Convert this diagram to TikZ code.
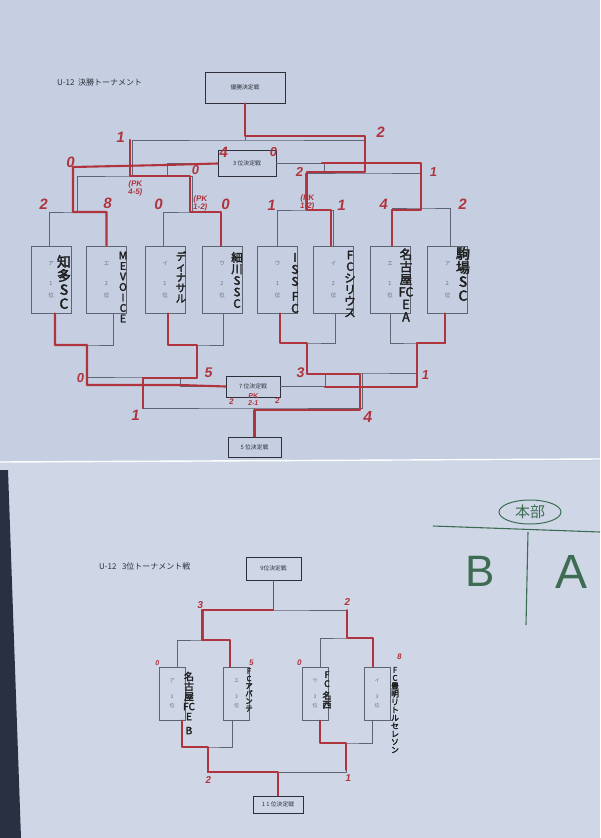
\documentclass[tikz,border=0pt]{standalone}
\usepackage{fontspec}
\setmainfont{Noto Sans CJK JP}
\newfontfamily\jp{Noto Sans CJK JP}
\newfontfamily\hwf{Noto Sans CJK JP}[FakeBold=2.5]
\newfontfamily\rdf{Liberation Sans}[FakeSlant=0.15]
\newfontfamily\grf{Liberation Sans}
\definecolor{sheetA}{RGB}{197,207,225}
\definecolor{sheetB}{RGB}{207,215,231}
\definecolor{redc}{RGB}{176,52,62}
\definecolor{linec}{RGB}{95,100,115}
\definecolor{boxc}{RGB}{45,48,58}
\definecolor{greyt}{RGB}{105,110,125}
\definecolor{greenc}{RGB}{62,108,82}
\definecolor{darkc}{RGB}{40,48,66}
\begin{document}
\begin{tikzpicture}[x=1pt,y=-1pt,
  thinl/.style={draw=linec,line width=0.6pt},
  win/.style={draw=redc,line width=2.1pt,line join=round,line cap=round},
  winb/.style={win,line width=1.6pt},
  lbox/.style={draw=boxc,line width=0.8pt,inner sep=0pt,font=\jp\fontsize{5.8}{7}\selectfont,text=boxc},
  tbox/.style={draw=linec,line width=0.7pt,minimum width=40pt,minimum height=67pt,inner sep=0pt,align=center,font=\jp\fontsize{5.5}{12}\selectfont,text=greyt},
  ubox/.style={draw=linec,line width=0.7pt,minimum width=26pt,minimum height=53pt,inner sep=0pt,align=center,font=\jp\fontsize{5}{9}\selectfont,text=greyt},
  hw/.style={inner sep=0pt,align=center,text=black!88,font=\hwf\fontsize{#1}{#1}\selectfont},
  sc/.style={inner sep=0pt,align=center,text=redc,font=\rdf\bfseries\fontsize{#1}{#1}\selectfont},
  ttl/.style={anchor=west,inner sep=0pt,text=boxc,font=\jp\fontsize{8}{9}\selectfont}
]
\useasboundingbox (0,0) rectangle (600,838);
% paper sheets
\fill[sheetA] (0,0) rectangle (600,461);
\fill[sheetB] (0,461) rectangle (600,838);
\draw[white,line width=1.4pt] (0,462) -- (600,459);
\fill[darkc] (0,470) -- (8,470) -- (21,838) -- (0,838) -- cycle;

% ---------- titles ----------
\node[ttl] (title1) at (57,82) {U-12\ \ 決勝トーナメント};
\node[ttl] (title2) at (99,566) {U-12\ \ \ 3位トーナメント戦};

% ---------- match boxes ----------
\node[lbox,minimum width=80pt,minimum height=31pt] (yusho) at (245,87.5) {優勝決定戦};
\node[lbox,minimum width=58pt,minimum height=26pt] (b3) at (247,163.5) {3 位決定戦};
\node[lbox,minimum width=54pt,minimum height=21pt] (b7) at (253,386.5) {7 位決定戦};
\node[lbox,minimum width=53pt,minimum height=20pt] (b5) at (254.5,447) {5 位決定戦};
\node[lbox,minimum width=55pt,minimum height=23pt] (b9) at (273.5,568.5) {9位決定戦};
\node[lbox,minimum width=50pt,minimum height=17pt] (b11) at (278,804.5) {1 1 位決定戦};

% ---------- team boxes (top) ----------
\foreach \n/\x/\k/\r in {1/51/ア/1,2/106.5/エ/2,3/165/イ/1,4/222/ウ/2,5/277.5/ウ/1,6/333.5/イ/2,7/390/エ/1,8/447.5/ア/2}
  \node[tbox] (t\n) at (\x,279.5) {\k\\[8pt]\r\\位};
% ---------- team boxes (bottom) ----------
\foreach \n/\x/\k in {A/172/ア,B/236.5/エ,C/315/ウ,D/377/イ}
  \node[ubox] (u\n) at (\x,693.5) {\k\\[7pt]3\\位};

% ---------- bracket coordinates ----------
\coordinate (p1) at (77,212);   \coordinate (p2) at (192,212);
\coordinate (p3) at (305,210);  \coordinate (p4) at (421,208);
\coordinate (s1) at (132,176);  \coordinate (s2) at (364,173);
\coordinate (f)  at (245,140);
\coordinate (c3l) at (167,176); \coordinate (c3r) at (324,173);
\coordinate (q1) at (86,345);   \coordinate (q2) at (196,345);
\coordinate (q3) at (307,343);  \coordinate (q4) at (417,343);
\coordinate (r1) at (142,377);  \coordinate (r2) at (362,373);
\coordinate (g)  at (254.5,408);
\coordinate (c7l) at (180,377); \coordinate (c7r) at (325,373);
\coordinate (h)  at (273.5,610);
\coordinate (k1) at (203.5,640); \coordinate (k2) at (346.5,638);
\coordinate (m1) at (207,747);   \coordinate (m2) at (346,743);
\coordinate (nn) at (278,772);

% ---------- thin printed bracket (top sheet) ----------
\draw[thinl] ([xshift=-2pt]t1.north) |- (p1) -| (t2.north);
\draw[thinl] ([xshift=-2pt]t3.north) |- (p2) -| ([xshift=-2pt]t4.north);
\draw[thinl] (t5.north) |- (p3) -| (t6.north);
\draw[thinl] ([xshift=2pt]t7.north) |- (p4) -| ([xshift=2.5pt]t8.north);
\draw[thinl] (p1) |- (s1) -| (p2);
\draw[thinl] (p3) |- (s2) -| (p4);
\draw[thinl] (s1) |- (f) -| (s2);
\draw[thinl] (yusho.south) -- (f);
\draw[thinl] (b3.west) -| (c3l);
\draw[thinl] (b3.east) -| (c3r);
\draw[thinl] ([xshift=4pt]t1.south) |- (q1) -| ([xshift=6.5pt]t2.south);
\draw[thinl] ([xshift=3pt]t3.south) |- (q2) -| ([xshift=1pt]t4.south);
\draw[thinl] ([xshift=2.5pt]t5.south) |- (q3) -| ([xshift=1.5pt]t6.south);
\draw[thinl] (t7.south) |- (q4) -| ([xshift=-2.5pt]t8.south);
\draw[thinl] (q1) |- (r1) -| (q2);
\draw[thinl] (q3) |- (r2) -| (q4);
\draw[thinl] (r1) |- (g) -| (r2);
\draw[thinl] (g) -- (b5.north);
\draw[thinl] (b7.west) -| (c7l);
\draw[thinl] (b7.east) -| (c7r);

% ---------- thin printed bracket (bottom sheet) ----------
\draw[thinl] (b9.south) -- (h);
\draw[thinl] (k1) |- (h) -| (k2);
\draw[thinl] ([xshift=5pt]uA.north) |- (k1) -| ([xshift=-6.5pt]uB.north);
\draw[thinl] ([xshift=5pt]uC.north) |- (k2) -| ([xshift=-4pt]uD.north);
\draw[thinl] ([xshift=10pt]uA.south) |- (m1) -| ([xshift=-4.5pt]uB.south);
\draw[thinl] ([xshift=5pt]uC.south) |- (m2) -| ([xshift=-5pt]uD.south);
\draw[thinl] (m1) |- (nn) -| (m2);
\draw[thinl] (nn) -- (b11.north);

% ---------- red winner paths (top sheet) ----------
\draw[win] (yusho.south) -- (245,136) -- (365,136) -- (365,172) -- (307,172) -- (307,210) -- (331,210) -- ([xshift=-2.5pt]t6.north);
\draw[win] ([xshift=-1pt]t4.north) -- (221,212) -- (190,212) -- (190,176) -- (130,176) -- (130,140);
\draw[win] (t2.north) -- (106.5,212) -- (73,212) -- (73,167) -- (165,165) -- (b3.west);
\draw[win] ([xshift=2pt]t7.north) -- (392,210) -- (421,210) -- (421,163) -- (322,163);
\draw[win] ([xshift=4pt]t1.south) -- (55,345) -- (87,345) -- (87,385) -- (180,385) -- (b7.west);
\draw[win] ([xshift=3pt]t3.south) -- (168,345) -- (197,345) -- (197,378) -- (143,378) -- (143,408);
\draw[win] ([xshift=2.5pt]t5.south) -- (280,343) -- (307,343) -- (307,374) -- (360,374) -- (360,410) -- (254.5,410) -- (b5.north);
\draw[win] ([xshift=-2.5pt]t8.south) -- (445,343) -- (417,343) -- (417,387) -- (325,387);

% ---------- red winner paths (bottom sheet) ----------
\draw[winb] (b9.south) -- (273.5,610) -- (202,610) -- (202,640) -- (230,640) -- ([xshift=-6.5pt]uB.north);
\draw[winb] ([xshift=-4pt]uD.north) -- (373,638) -- (347,638) -- (347,610);
\draw[winb] ([xshift=10pt]uA.south) -- (182,747) -- (208,747) -- (208,772) -- (278,772) -- (b11.north);
\draw[winb] ([xshift=5pt]uC.south) -- (320,743) -- (346,743) -- (346,770);

% ---------- handwritten team names ----------
\node[hw=14]   (n1) at (64,282)  {知\\多\\S\\C};
\node[hw=10.5] (n2) at (123,287) {M\\E\\V\\O\\I\\C\\E};
\node[hw=10.5] (n3) at (181,277) {デ\\ィ\\ナ\\サ\\ル};
\node[hw=11.5] (n4) at (237,280) {細\\川\\S\\S\\C};
\node[hw=12]   (n5) at (295,283) {I\\S\\S\\[3pt]F\\C};
\node[hw=11.5] (n6) at (350,284) {F\\C\\シ\\リ\\ウ\\ス};
\node[hw=12.5] (n7) at (406,285) {名\\古\\屋\\FC\\E\\A};
\node[hw=14]   (n8) at (463,274) {駒\\場\\S\\C};
\node[hw=10]   (nA) at (189,703) {名\\古\\屋\\FC\\E\\[4pt]B};
\node[hw=7.5]  (nB) at (249,690) {F\\C\\ア\\バ\\ン\\テ};
\node[hw=9]    (nC) at (327,690) {F\\C\\[3pt]名\\西};
\node[hw=8]    (nD) at (395,710) {F\\C\\豊\\明\\リ\\ト\\ル\\セ\\レ\\ソ\\ン};

% ---------- red scores (top sheet) ----------
\node[sc=15] (a1) at (43,204) {2};
\node[sc=15] (a2) at (107,203) {8};
\node[sc=15] (a3) at (158,204) {0};
\node[sc=8]  (a4) at (200,203) {(PK\\1-2)};
\node[sc=15] (a5) at (225,204) {0};
\node[sc=15] (a6) at (70,162) {0};
\node[sc=15] (a7) at (120,137) {1};
\node[sc=8]  (a8) at (135,188) {(PK\\4-5)};
\node[sc=13] (a9) at (195,170) {0};
\node[sc=15] (a10) at (223,152) {4};
\node[sc=13] (a11) at (273,152) {0};
\node[sc=15] (a12) at (380,132) {2};
\node[sc=13] (a13) at (299,172) {2};
\node[sc=13] (a14) at (433,172) {1};
\node[sc=15] (a15) at (271,205) {1};
\node[sc=8]  (a16) at (307,202) {(PK\\1-2)};
\node[sc=15] (a17) at (341,205) {1};
\node[sc=15] (a18) at (383,204) {4};
\node[sc=15] (a19) at (462,204) {2};
% consolation scores
\node[sc=13] (a20) at (80,378) {0};
\node[sc=14] (a21) at (208,373) {5};
\node[sc=15] (a22) at (135,415) {1};
\node[sc=14] (a23) at (300,373) {3};
\node[sc=13] (a24) at (425,375) {1};
\node[sc=16] (a25) at (367,417) {4};
\node[sc=8]  (a26) at (231,402) {2};
\node[sc=7]  (a27) at (253,400) {PK\\2-1};
\node[sc=8]  (a28) at (277,401) {2};
% ---------- red scores (bottom sheet) ----------
\node[sc=10] (c1) at (200,605) {3};
\node[sc=10] (c2) at (347,602) {2};
\node[sc=7]  (c3) at (157,663) {0};
\node[sc=8]  (c4) at (251,663) {5};
\node[sc=8]  (c5) at (299,663) {0};
\node[sc=8]  (c6) at (399,657) {8};
\node[sc=10] (c7) at (208,780) {2};
\node[sc=10] (c8) at (348,778) {1};

% ---------- green handwritten note ----------
\draw[greenc,line width=1pt] (530,512) ellipse [x radius=31pt, y radius=12pt];
\node[inner sep=0pt,text=greenc,font=\jp\fontsize{15}{15}\selectfont] (hq) at (530,512) {本部};
\coordinate (gl1) at (433,526); \coordinate (gl2) at (600,532);
\coordinate (gv1) at (528,532); \coordinate (gv2) at (526,625);
\draw[greenc,line width=1.1pt] (gl1) -- (gl2);
\draw[greenc,line width=1.1pt] (gv1) -- (gv2);
\node[inner sep=0pt,text=greenc,font=\grf\fontsize{44}{44}\selectfont] (gB) at (480,571) {B};
\node[inner sep=0pt,text=greenc,font=\grf\fontsize{48}{48}\selectfont] (gA) at (572,572) {A};
\end{tikzpicture}
\end{document}
